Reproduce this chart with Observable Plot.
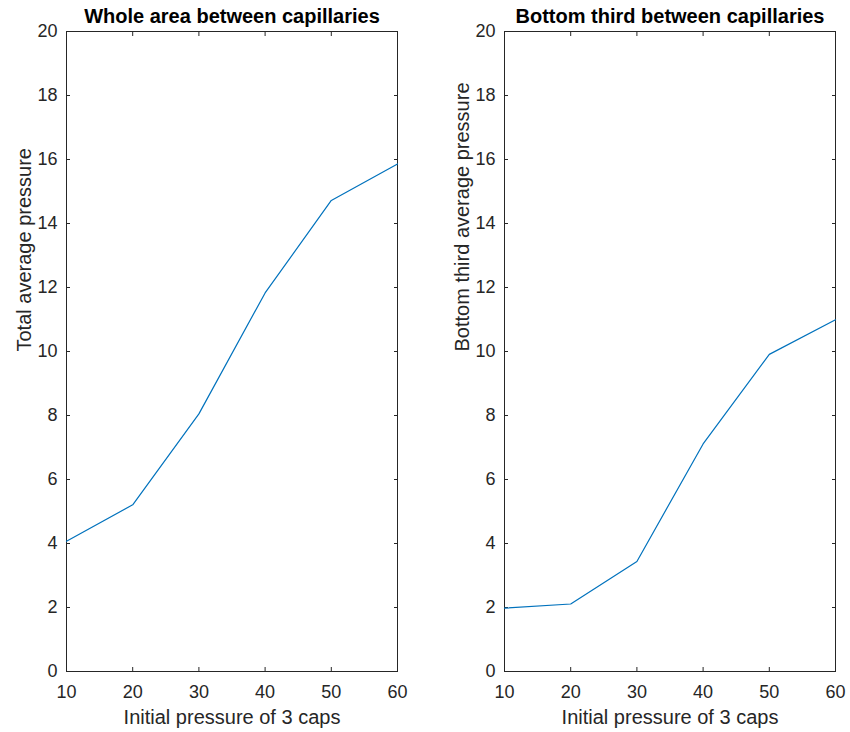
<!DOCTYPE html>
<html>
<head>
<meta charset="utf-8">
<script src="https://cdn.jsdelivr.net/npm/d3@7"></script>
<script src="https://cdn.jsdelivr.net/npm/@observablehq/plot@0.6"></script>
<style>
  html, body { margin: 0; padding: 0; background: #fff; }
  #wrap { display: flex; width: 850px; height: 732px; }
  #wrap svg { display: block; }
</style>
</head>
<body>
<div id="wrap"></div>
<script>
const initialPressure = [10, 20, 30, 40, 50, 60];
const wholeArea = [4.07, 5.21, 8.05, 11.83, 14.72, 15.86];
const bottomThird = [1.98, 2.11, 3.44, 7.11, 9.91, 10.99];
const xTicks = [10, 20, 30, 40, 50, 60];
const yTicks = [0, 2, 4, 6, 8, 10, 12, 14, 16, 18, 20];
const titles = ["Whole area between capillaries", "Bottom third between capillaries"];
const yLabels = ["Total average pressure", "Bottom third average pressure"];
const xLabel = "Initial pressure of 3 caps";

const ink = "#262626";
const font = "'Liberation Sans', Arial, Helvetica, sans-serif";

function panel(title, yLabel, values, marginLeft, marginRight) {
  const data = initialPressure.map((x, i) => ({x, y: values[i]}));
  return Plot.plot({
    width: 425,
    height: 732,
    marginLeft,
    marginRight,
    marginTop: 31,
    marginBottom: 61,
    style: {fontFamily: font, fontSize: "18px", color: ink, background: "#fff", overflow: "visible"},
    x: {domain: [10, 60]},
    y: {domain: [0, 20]},
    marks: [
      Plot.axisX(xTicks, {anchor: "bottom", tickSize: -4, tickPadding: 18, label: null, fontSize: 18, stroke: ink, fill: ink}),
      Plot.axisX(xTicks, {anchor: "top", tickSize: -4, text: null, label: null, stroke: ink}),
      Plot.axisY(yTicks, {anchor: "left", tickSize: -4, tickPadding: 13, label: null, fontSize: 18, stroke: ink, fill: ink}),
      Plot.axisY(yTicks, {anchor: "right", tickSize: -4, text: null, label: null, stroke: ink}),
      Plot.frame({stroke: ink, strokeWidth: 1}),
      Plot.line(data, {x: "x", y: "y", stroke: "#0072BD", strokeWidth: 1.2}),
      Plot.text([title], {text: d => d, frameAnchor: "top", dy: -14.5, lineAnchor: "middle", fontWeight: "bold", fontSize: 20, fill: "#000"}),
      Plot.text([xLabel], {text: d => d, frameAnchor: "bottom", dy: 45.6, lineAnchor: "middle", fontSize: 20, fill: ink}),
      Plot.text([yLabel], {text: d => d, frameAnchor: "left", dx: -42, rotate: -90, lineAnchor: "middle", fontSize: 20, fill: ink})
    ]
  });
}

const wrap = document.getElementById("wrap");
wrap.append(panel(titles[0], yLabels[0], wholeArea, 66, 28));
wrap.append(panel(titles[1], yLabels[1], bottomThird, 79, 15));
</script>
</body>
</html>
